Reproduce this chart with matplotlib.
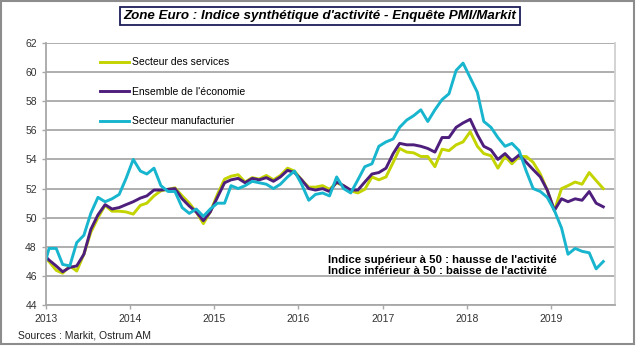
import matplotlib
matplotlib.use('Agg')

import numpy as np
import pandas as pd
import matplotlib.pyplot as plt
from matplotlib.patches import Rectangle

plt.rcParams['font.family'] = ['Liberation Sans', 'DejaVu Sans']

# points mensuels (milieu de mois), de déc. 2012 à août 2019 ; le premier sort du cadre
mois = pd.date_range('2012-12-01', '2019-08-01', freq='MS') + pd.Timedelta(days=14)

services = [47.5, 47.0, 46.4, 46.2, 46.7, 46.35, 47.5, 49.0, 50.0, 50.85, 50.45, 50.45, 50.4,
            50.25, 50.85, 51.0, 51.5, 51.85, 51.95, 52.05, 51.5, 51.0, 50.4, 49.6, 50.4,
            51.6, 52.65, 52.85, 52.95, 52.45, 52.75, 52.65, 52.9, 52.6, 52.9, 53.4, 53.2,
            52.6, 52.1, 52.1, 52.2, 51.95, 52.4, 52.2, 51.85, 51.7, 51.95, 52.8, 52.6,
            52.8, 53.8, 54.75, 54.5, 54.45, 54.2, 54.2, 53.5, 54.7, 54.6, 55.0, 55.2,
            55.9, 54.9, 54.4, 54.25, 53.4, 54.2, 53.7, 54.2, 54.2, 53.8, 53.0, 51.9,
            50.5, 52.0, 52.2, 52.45, 52.3, 53.1, 52.55, 52.0]

ensemble = [47.6, 47.1, 46.7, 46.3, 46.6, 46.7, 47.5, 49.2, 50.2, 50.9, 50.6, 50.7, 50.9,
            51.1, 51.35, 51.5, 51.9, 51.9, 51.95, 52.0, 51.3, 50.8, 50.4, 49.8, 50.4,
            51.4, 52.4, 52.6, 52.7, 52.4, 52.7, 52.6, 52.75, 52.5, 52.8, 53.25, 53.1,
            52.6, 52.0, 51.9, 52.0, 51.8, 52.45, 52.2, 51.9, 51.9, 52.45, 53.0, 53.1,
            53.4, 54.4, 55.1, 55.0, 55.0, 54.9, 54.75, 54.5, 55.5, 55.5, 56.2, 56.5,
            56.75, 55.7, 54.9, 54.65, 54.0, 54.4, 53.9, 54.3, 53.8, 53.3, 52.8, 51.9,
            50.5, 51.3, 51.1, 51.3, 51.2, 51.8, 51.0, 50.75]

manuf = [46.1, 47.9, 47.9, 46.8, 46.7, 48.3, 48.8, 50.3, 51.4, 51.1, 51.3, 51.6, 52.7,
         54.0, 53.2, 53.0, 53.4, 52.2, 51.8, 51.8, 50.7, 50.3, 50.6, 50.1, 50.6,
         51.0, 51.0, 52.2, 52.0, 52.2, 52.5, 52.4, 52.3, 52.0, 52.3, 52.8, 53.2,
         52.3, 51.2, 51.6, 51.7, 51.5, 52.8, 52.0, 51.7, 52.6, 53.5, 53.7, 54.9,
         55.2, 55.4, 56.2, 56.7, 57.0, 57.4, 56.6, 57.4, 58.1, 58.5, 60.1, 60.6,
         59.6, 58.6, 56.6, 56.2, 55.5, 54.9, 55.1, 54.6, 53.2, 52.0, 51.8, 51.4,
         50.5, 49.3, 47.5, 47.9, 47.7, 47.6, 46.5, 47.0]

annees = [2013, 2014, 2015, 2016, 2017, 2018, 2019]
yticks = np.arange(44, 63, 2)

fig = plt.figure(figsize=(6.4, 3.46), dpi=100)
ax = fig.add_axes([0.0716, 0.1176, 0.8894, 0.7590])

ax.plot(mois, services, color='#C3D400', lw=2.1, label='Secteur des services')
ax.plot(mois, ensemble, color='#4E1E7C', lw=2.1, label="Ensemble de l'économie")
ax.plot(mois, manuf, color='#17B5CE', lw=2.1, label='Secteur manufacturier')

ax.set_xlim(pd.Timestamp('2013-01-01'), pd.Timestamp('2019-10-05'))
ax.set_ylim(44, 62)
ax.set_yticks(yticks)
ax.set_xticks([pd.Timestamp(f'{a}-01-01') for a in annees])
ax.set_xticklabels([str(a) for a in annees])
ax.grid(axis='y', color='#A8A8A8', lw=1.3)
ax.set_axisbelow(True)
ax.tick_params(labelsize=7.5, labelcolor='#333333', color='#A8A8A8', length=3, width=1)

ax.spines['top'].set_visible(False)
ax.spines['left'].set_color('#A8A8A8')
ax.spines['bottom'].set_color('#A8A8A8')
ax.spines['right'].set_color('#D0D0D0')
for s in ax.spines.values():
    s.set_linewidth(1.3)

ax.legend(loc='upper left', bbox_to_anchor=(0.0952, 0.944), frameon=False,
          fontsize=7.5, handlelength=2.8, handletextpad=0.3, labelspacing=1.86,
          borderpad=0, borderaxespad=0)

ax.text(0.496, 0.1725, "Indice supérieur à 50 : hausse de l'activité",
        transform=ax.transAxes, fontsize=8.2, fontweight='bold', va='center')
ax.text(0.496, 0.132, "Indice inférieur à 50 : baisse de l'activité",
        transform=ax.transAxes, fontsize=8.2, fontweight='bold', va='center')

fig.text(0.5, 1 - 16 / 346, "Zone Euro : Indice synthétique d'activité - Enquête PMI/Markit",
         ha='center', va='center', fontsize=9.6, fontweight='bold', style='italic',
         bbox=dict(boxstyle='square,pad=0.25', fc='white', ec='#1C1C5C', lw=1.3))
fig.text(18 / 640, 1 - 336 / 346, "Sources : Markit, Ostrum AM", fontsize=7.5,
         color='#222222', va='center')

fig.patches.append(Rectangle((0.002, 0.006), 0.988, 0.99, transform=fig.transFigure,
                             fill=False, ec='#8C8C8C', lw=1.5))

fig.savefig('out.png', dpi=100)
